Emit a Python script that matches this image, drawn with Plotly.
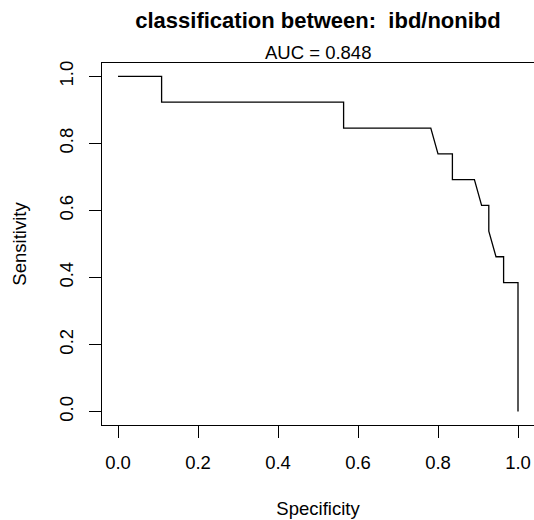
import plotly.graph_objects as go

# ROC curve vertices (specificity, sensitivity)
specificity = [0.0, 0.109, 0.109, 0.564, 0.564, 0.782, 0.800, 0.836, 0.836,
               0.891, 0.909, 0.927, 0.927, 0.945, 0.964, 0.964, 1.0, 1.0]
sensitivity = [1.0, 1.0, 0.923, 0.923, 0.846, 0.846, 0.769, 0.769, 0.692,
               0.692, 0.615, 0.615, 0.538, 0.462, 0.462, 0.385, 0.385, 0.0]
auc_value = 0.848
tick_vals = [0.0, 0.2, 0.4, 0.6, 0.8, 1.0]

FONT = "Liberation Sans, Arial, Helvetica, sans-serif"
BASE = 18.5

fig = go.Figure()
fig.add_trace(go.Scatter(
    x=specificity, y=sensitivity, mode="lines",
    line=dict(color="black", width=1.3),
    showlegend=False, hoverinfo="skip",
))

axis_common = dict(
    tickvals=tick_vals, tickformat=".1f",
    ticks="outside", ticklen=12, tickwidth=1.2, tickcolor="black",
    showline=True, linecolor="black", linewidth=1.3,
    showgrid=False, zeroline=False,
    tickfont=dict(family=FONT, size=BASE, color="black"),
)

fig.update_layout(
    width=534, height=520,
    margin=dict(l=102, r=0, t=63, b=95),
    paper_bgcolor="white", plot_bgcolor="white",
    font=dict(family=FONT, color="black"),
    title=dict(
        text="<b>classification between:  ibd/nonibd</b>",
        font=dict(family=FONT, size=22, color="black"),
        x=0.5, xref="paper", xanchor="center",
        y=1 - 20 / 520, yref="container", yanchor="middle",
    ),
    xaxis=dict(
        range=[-0.04, 1.04], mirror=True, ticklabelstandoff=9,
        title=dict(text="Specificity", font=dict(family=FONT, size=BASE), standoff=29),
        **axis_common,
    ),
    yaxis=dict(
        range=[-0.04, 1.04], tickangle=-90, mirror=False, ticklabelstandoff=8,
        title=dict(text="Sensitivity", font=dict(family=FONT, size=BASE), standoff=24),
        **axis_common,
    ),
    annotations=[dict(
        text=f"AUC = {auc_value:.3f}", showarrow=False,
        xref="paper", yref="paper", x=0.5, y=1.03,
        xanchor="center", yanchor="middle",
        font=dict(family=FONT, size=BASE, color="black"),
    )],
)

fig.write_html("out.html")
